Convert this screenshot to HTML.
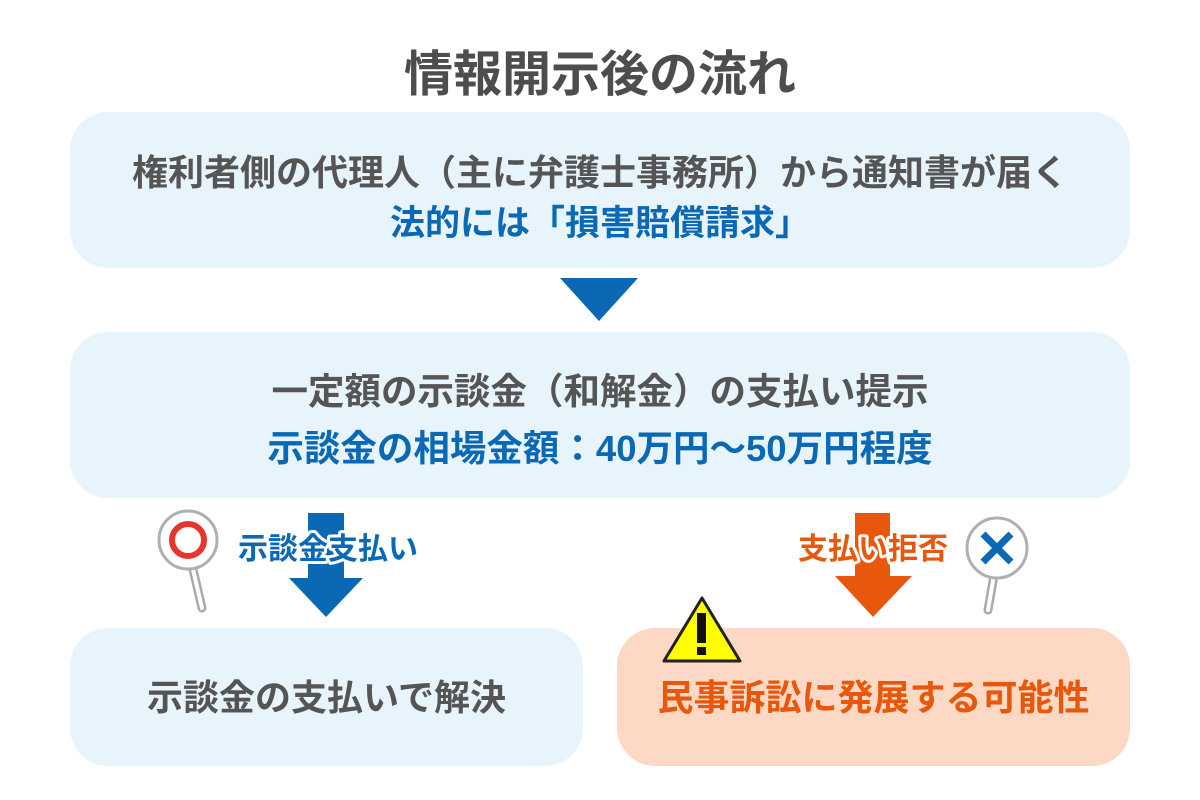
<!DOCTYPE html>
<html><head><meta charset="utf-8"><style>
body{margin:0;width:1200px;height:800px;background:#fff;position:relative;overflow:hidden;font-family:"Liberation Sans","Noto Sans CJK JP",sans-serif;font-weight:bold}
.t{position:absolute;left:0;width:1200px;text-align:center;white-space:nowrap}
div{line-height:1}
.box{position:absolute;border-radius:38px;background:#e7f4fc}
</style></head><body>
<div class="t" style="top:51px;font-size:49px;color:#4d4d4d">情報開示後の流れ</div>
<div class="box" style="left:70px;top:112px;width:1060px;height:156px"></div>
<div class="t" style="top:155px;font-size:36px;color:#555">権利者側の代理人（主に弁護士事務所）から通知書が届く</div>
<div class="t" style="top:206px;font-size:35px;color:#0a68b4">法的には「損害賠償請求」</div>
<svg style="position:absolute;left:0;top:0" width="1200" height="800">
<polygon points="560,278 638,278 599,321" fill="#0a68b4"/>
</svg>
<div class="box" style="left:70px;top:332px;width:1060px;height:166px"></div>
<div class="t" style="top:374px;font-size:36.5px;color:#555">一定額の示談金（和解金）の支払い提示</div>
<div class="t" style="top:431px;font-size:36.5px;color:#0a68b4">示談金の相場金額：40万円〜50万円程度</div>
<div class="box" style="left:70px;top:628px;width:513px;height:138px"></div>
<div class="box" style="left:617px;top:628px;width:513px;height:138px;background:#fdd8c4"></div>
<div style="position:absolute;left:70px;width:513px;top:680px;text-align:center;font-size:36px;color:#555">示談金の支払いで解決</div>
<div style="position:absolute;left:617px;width:513px;top:680px;text-align:center;font-size:36px;color:#e8580c">民事訴訟に発展する可能性</div>
<svg style="position:absolute;left:0;top:0" width="1200" height="800">
<rect x="308" y="513" width="36" height="68" fill="#0a68b4"/>
<polygon points="289,578 363,578 326,617" fill="#0a68b4"/>
<rect x="855" y="513" width="35" height="66" fill="#e8580c"/>
<polygon points="835,576 912,576 873,617" fill="#e8580c"/>
<line x1="192" y1="565" x2="202" y2="608" stroke="#aaa" stroke-width="9" stroke-linecap="round"/>
<line x1="192" y1="565" x2="202" y2="608" stroke="#fff" stroke-width="4" stroke-linecap="round"/>
<circle cx="188" cy="540" r="29" fill="#fff" stroke="#b0b0b0" stroke-width="3"/>
<circle cx="188" cy="540" r="16" fill="none" stroke="#e8352a" stroke-width="6"/>
<line x1="994" y1="575" x2="988" y2="610" stroke="#aaa" stroke-width="9" stroke-linecap="round"/>
<line x1="994" y1="575" x2="988" y2="610" stroke="#fff" stroke-width="4" stroke-linecap="round"/>
<circle cx="997" cy="548" r="30" fill="#fff" stroke="#b0b0b0" stroke-width="3"/>
<line x1="983" y1="534" x2="1011" y2="562" stroke="#0a68b4" stroke-width="7"/>
<line x1="1011" y1="534" x2="983" y2="562" stroke="#0a68b4" stroke-width="7"/>
<polygon points="702,598 740,661 664,661" fill="#ffff00" stroke="#222" stroke-width="3" stroke-linejoin="round"/>
<rect x="697" y="613" width="9" height="30" fill="#111"/>
<rect x="697" y="647" width="9" height="8" fill="#111"/>
<g font-size="30" font-weight="bold" font-family="Liberation Sans,Noto Sans CJK JP,sans-serif">
<text x="238" y="559" fill="#0a68b4" stroke="#fff" stroke-width="6" paint-order="stroke" stroke-linejoin="round">示談金支払い</text>
<text x="798" y="559" fill="#e8580c" stroke="#fff" stroke-width="6" paint-order="stroke" stroke-linejoin="round">支払い拒否</text>
</g>
</svg>
</body></html>
